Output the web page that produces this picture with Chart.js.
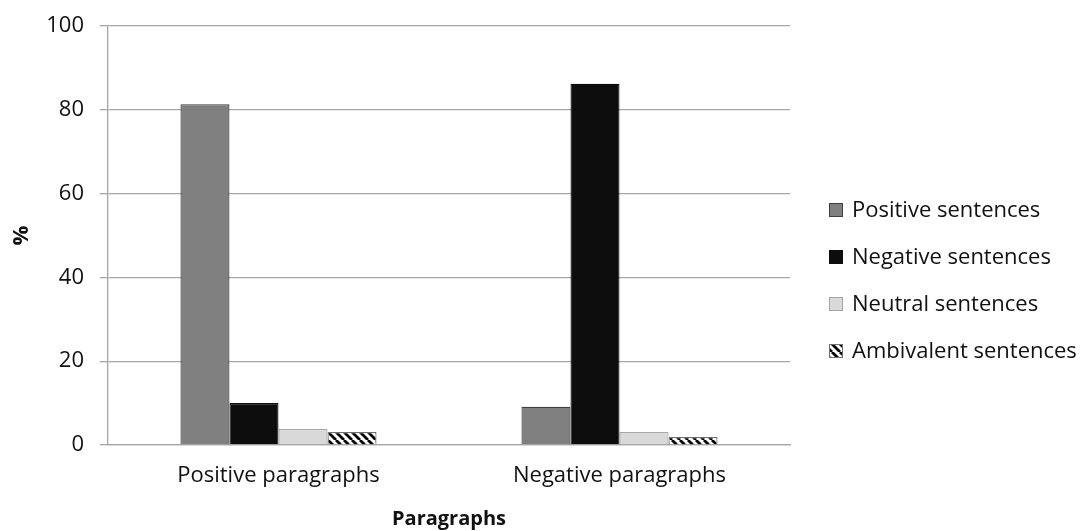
<!DOCTYPE html>
<html>
<head>
<meta charset="utf-8">
<script src="https://cdn.jsdelivr.net/npm/chart.js@4.4.1/dist/chart.umd.min.js"></script>
<style>
html,body{margin:0;padding:0;background:#fff;}
#wrap{width:1086px;height:531px;position:relative;}
</style>
</head>
<body>
<div id="wrap"><canvas id="c" width="1086" height="531"></canvas></div>
<script>
const categories = ["Positive paragraphs", "Negative paragraphs"];
const positiveSentences = [81.3, 9.1];
const negativeSentences = [10.0, 86.2];
const neutralSentences = [3.8, 3.1];
const ambivalentSentences = [3.1, 1.9];
const seriesNames = ["Positive sentences", "Negative sentences", "Neutral sentences", "Ambivalent sentences"];
const yTicks = [0, 20, 40, 60, 80, 100];

const FONT = "'Open Sans', 'Noto Sans', sans-serif";

function stripePattern() {
  const s = 8;
  const cv = document.createElement('canvas');
  cv.width = s; cv.height = s;
  const g = cv.getContext('2d');
  g.fillStyle = '#ffffff';
  g.fillRect(0, 0, s, s);
  g.strokeStyle = '#000000';
  g.lineWidth = 2.8;
  g.beginPath();
  for (let k = -1; k <= 1; k++) {
    g.moveTo(k * s, 0);
    g.lineTo(k * s + s, s);
  }
  g.stroke();
  return g.createPattern(cv, 'repeat');
}
const stripes = stripePattern();

const fills = ['#808080', '#0d0d0d', '#d9d9d9', stripes];
const borders = ['#3f3f3f', '#0d0d0d', '#a6a6a6', '#6f6f6f'];
const values = [positiveSentences, negativeSentences, neutralSentences, ambivalentSentences];

const datasets = seriesNames.map((n, i) => ({
  label: n,
  data: values[i],
  backgroundColor: fills[i],
  borderColor: borders[i],
  borderWidth: 1.2,
  barPercentage: 1.0,
  categoryPercentage: 0.575
}));

const legendPlugin = {
  id: 'customLegend',
  afterDraw(chart) {
    const ctx = chart.ctx;
    const ys = [210, 257, 304, 351];
    ctx.save();
    ctx.font = "22px " + FONT;
    ctx.textBaseline = 'middle';
    ctx.textAlign = 'left';
    chart.data.datasets.forEach((ds, i) => {
      const y = ys[i];
      ctx.fillStyle = ds.backgroundColor;
      ctx.fillRect(829, y - 7, 14, 14);
      ctx.strokeStyle = ds.borderColor;
      ctx.lineWidth = 1;
      ctx.strokeRect(829.5, y - 6.5, 13, 13);
      ctx.fillStyle = '#111111';
      ctx.fillText(ds.label, 852, y + 1);
    });
    ctx.restore();
  }
};

new Chart(document.getElementById('c'), {
  type: 'bar',
  data: { labels: categories, datasets },
  plugins: [legendPlugin],
  options: {
    responsive: false,
    animation: false,
    layout: { padding: { top: 26, right: 296, left: 0, bottom: 0 } },
    plugins: { legend: { display: false }, tooltip: { enabled: false } },
    scales: {
      x: {
        grid: { display: false, drawTicks: false },
        border: { display: true, color: '#a6a6a6', width: 1.3 },
        ticks: { color: '#111111', font: { family: FONT, size: 22 }, padding: 18 },
        title: { display: true, text: 'Paragraphs', color: '#111111', font: { family: FONT, size: 20, weight: 'bold' }, padding: { top: 0, bottom: 0 } },
        afterFit(s) { s.height = 86; }
      },
      y: {
        min: 0, max: 100,
        afterBuildTicks(s) { s.ticks = yTicks.map(v => ({ value: v })); },
        grid: { color: '#a6a6a6', lineWidth: 1.3, drawTicks: true, tickLength: 8, tickColor: '#a6a6a6' },
        border: { display: true, color: '#a6a6a6', width: 1.3 },
        ticks: { color: '#111111', font: { family: FONT, size: 22, lineHeight: 0.8 }, padding: 16 },
        title: { display: true, text: '%', color: '#111111', font: { family: FONT, size: 22, weight: 'bold' }, padding: { top: 9, bottom: 6 } },
        afterFit(s) { s.width = 108; }
      }
    }
  }
});
</script>
</body>
</html>
